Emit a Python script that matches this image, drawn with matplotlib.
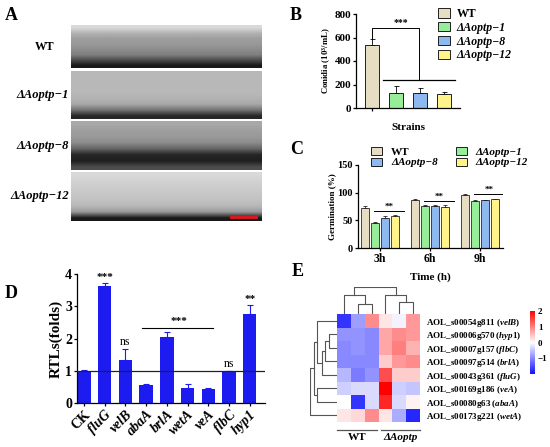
import numpy as np
import matplotlib
matplotlib.use("Agg")
from matplotlib import pyplot as plt
from matplotlib.patches import Patch
from matplotlib.colors import LinearSegmentedColormap

plt.rcParams['font.family'] = ['Liberation Serif', 'DejaVu Serif']
plt.rcParams['font.weight'] = 'bold'
plt.rcParams['axes.labelweight'] = 'bold'
plt.rcParams['mathtext.fontset'] = 'custom'
plt.rcParams['mathtext.rm'] = 'Liberation Serif:bold'
plt.rcParams['mathtext.it'] = 'Liberation Serif:italic:bold'
plt.rcParams['mathtext.bf'] = 'Liberation Serif:bold'

# ---- data ----
strains = ['WT', 'ΔAoptp−1', 'ΔAoptp−8', 'ΔAoptp−12']
strain_colors = ['#e6ddc3', '#98ee98', '#8db8f0', '#fff38a']

conidia_mean = [540, 130, 128, 115]
conidia_err = [50, 60, 45, 25]

times = ['3h', '6h', '9h']
germ_mean = [[72, 87, 96],   # WT
             [45, 76, 85],   # -1
             [54, 76, 86],   # -8
             [57, 75, 88]]   # -12
germ_err = [[4, 1, 1],
            [2, 1, 1],
            [3, 2, 1],
            [2, 2, 1]]

genes_d = ['CK', 'fluG', 'velB', 'abaA', 'brlA', 'wetA', 'veA', 'flbC', 'hyp1']
rtl_mean = [1.0, 3.62, 1.32, 0.56, 2.05, 0.48, 0.43, 0.98, 2.75]
rtl_err = [0.02, 0.1, 0.35, 0.02, 0.15, 0.1, 0.02, 0.01, 0.3]

gene_ids = ['AOL_s00054g811', 'AOL_s00006g570', 'AOL_s00007g157', 'AOL_s00097g514',
            'AOL_s00043g361', 'AOL_s00169g186', 'AOL_s00080g63', 'AOL_s00173g221']
gene_names = ['velB', 'hyp1', 'flbC', 'brlA', 'fluG', 'veA', 'abaA', 'wetA']
zscores = [[-1.7, -0.8, 0.9, 0.2, -0.1, 0.8],
           [-0.9, -0.9, -1.0, 0.7, 0.9, 0.8],
           [-1.0, -0.9, -1.0, 0.7, 1.0, 0.6],
           [-1.0, -1.0, -1.0, 0.4, 0.8, 0.9],
           [-0.6, -1.1, -0.9, 1.4, 0.4, 0.4],
           [-0.4, -0.3, -0.3, 2.0, -0.4, -0.5],
           [0.0, -1.7, -0.3, 1.7, -0.3, 0.1],
           [0.2, 0.3, 0.9, 0.2, -0.7, -1.8]]
# dendrogram merges: (child a, child b, height); new nodes numbered after leaves
col_tree = [(1, 2, 30), (0, 6, 55), (4, 5, 35), (3, 8, 55), (7, 9, 77)]
row_tree = [(1, 2, 25), (3, 8, 38), (4, 9, 45), (0, 10, 62), (5, 6, 60),
            (11, 12, 72), (13, 7, 82)]

# photo placeholders for panel A (grey shade top -> bottom)
photo_shades = [[0.85, 0.70, 0.62, 0.60, 0.55, 0.50, 0.30, 0.10],
                [0.72, 0.72, 0.72, 0.72, 0.70, 0.66, 0.45, 0.15],
                [0.66, 0.62, 0.60, 0.55, 0.40, 0.15, 0.12, 0.30],
                [0.85, 0.82, 0.80, 0.78, 0.76, 0.72, 0.60, 0.10]]

W, H = 550, 447
fig = plt.figure(figsize=(W / 100, H / 100), dpi=100)


def ax_px(x0, y0, x1, y1):
    return fig.add_axes([x0 / W, 1 - y1 / H, (x1 - x0) / W, (y1 - y0) / H])


def style_axes(ax, fs):
    for s in ['top', 'right']:
        ax.spines[s].set_visible(False)
    for s in ['left', 'bottom']:
        ax.spines[s].set_linewidth(0.9)
    ax.tick_params(labelsize=fs, width=0.9, length=2.5, pad=1)
    for lab in ax.get_yticklabels():
        lab.set_fontweight('bold')


def up_errbar(ax, x, y, e, color, lw=0.6, cap=1.8):
    ax.errorbar(x, y, yerr=[np.zeros(len(e)), e], fmt='none', ecolor=color,
                elinewidth=lw, capsize=cap, capthick=lw, zorder=1)


# ---- panel labels ----
for lab, x, y in [('A', 5, 16), ('B', 290, 15), ('C', 290, 150), ('D', 5, 294), ('E', 292, 272)]:
    fig.text(x / W, 1 - y / H, lab, fontsize=13, fontweight='bold', va='center')

# ---- panel A ----
rows_a = [(25, 68), (71, 119), (121, 170), (172, 221)]
for i, (y0, y1) in enumerate(rows_a):
    ax = ax_px(71, y0, 262, y1)
    img = np.array(photo_shades[i])[:, None] * np.ones((1, 4))
    ax.imshow(img, cmap='gray', vmin=0, vmax=1, aspect='auto', interpolation='bilinear',
              extent=[0, 1, 0, 1])
    ax.set_xticks([])
    ax.set_yticks([])
    for s in ax.spines.values():
        s.set_visible(False)
    yc = 1 - (y0 + y1) / 2 / H
    if i == 0:
        fig.text(45 / W, yc, strains[i], fontsize=8.5, fontweight='bold', ha='center', va='center')
    else:
        fig.text(69 / W, yc, strains[i], fontsize=9, fontweight='bold', style='italic',
                 ha='right', va='center')
    if i == 3:
        ax.plot([0.84, 0.97], [0.09, 0.09], color='#e8141c', lw=2)

# ---- panel B ----
axB = ax_px(356, 14, 460, 108)
xb = np.arange(len(strains))
axB.bar(xb, conidia_mean, width=0.62, color=strain_colors, edgecolor='black', linewidth=0.6, zorder=2)
up_errbar(axB, xb, conidia_mean, conidia_err, 'black')
axB.set_xlim(-0.67, 3.67)
axB.set_ylim(0, 800)
axB.set_yticks([0, 200, 400, 600, 800])
axB.set_xticks([0])
axB.set_xticklabels([''])
style_axes(axB, 8)
axB.set_ylabel('Conidia (10$^3$/mL)', fontsize=6.3, labelpad=1)
axB.plot([0, 0, 1.96, 1.96], [590, 680, 680, 237], color='black', lw=0.7, clip_on=False)
axB.plot([0.45, 3.45], [237, 237], color='black', lw=0.9, clip_on=False)
axB.text(1.2, 690, '***', fontsize=7, ha='center', va='bottom')
fig.text(408 / W, 1 - 127 / H, 'Strains', fontsize=8, fontweight='bold', ha='center', va='center')

handles = [Patch(facecolor=c, edgecolor='black', linewidth=0.6) for c in strain_colors]
legB = fig.legend(handles, strains, loc='upper left', bbox_to_anchor=(438 / W, 1 - 8 / H),
                  frameon=False, fontsize=8.5, handlelength=1.0, handleheight=0.85,
                  labelspacing=0.15, handletextpad=0.6, borderaxespad=0, borderpad=0)
for i, t in enumerate(legB.get_texts()):
    t.set_fontweight('bold')
    if i > 0:
        t.set_style('italic')

# ---- panel C ----
axC = ax_px(358, 165, 503, 248)
xt = np.arange(len(times))
offsets = [-0.3, -0.1, 0.1, 0.3]
for k in range(len(strains)):
    axC.bar(xt + offsets[k], germ_mean[k], width=0.16, color=strain_colors[k],
            edgecolor='black', linewidth=0.5, zorder=2)
    up_errbar(axC, xt + offsets[k], germ_mean[k], germ_err[k], 'black', lw=0.5, cap=1.2)
axC.set_xlim(-0.44, 2.46)
axC.set_ylim(0, 150)
axC.set_yticks([0, 50, 100, 150])
axC.set_xticks(xt)
axC.set_xticklabels(times, fontweight='bold')
style_axes(axC, 7.5)
axC.tick_params(axis='x', labelsize=8.5)
axC.set_ylabel('Germination (%)', fontsize=6.5, labelpad=1)
for i, yv in enumerate([66, 85, 97]):
    axC.plot([i - 0.12, i + 0.48], [yv, yv], color='black', lw=0.7)
    axC.text(i + 0.18, yv + 1, '**', fontsize=6.5, ha='center', va='bottom')
fig.text(430 / W, 1 - 277 / H, 'Time (h)', fontsize=8, fontweight='bold', ha='center', va='center')
order = [0, 2, 1, 3]
legC = fig.legend([handles[i] for i in order], [strains[i] for i in order], loc='upper left',
                  bbox_to_anchor=(371 / W, 1 - 147 / H), ncol=2, frameon=False, fontsize=8,
                  handlelength=1.0, handleheight=0.75, labelspacing=0.05, handletextpad=0.8,
                  columnspacing=1.6, borderaxespad=0, borderpad=0)
for t in legC.get_texts():
    t.set_fontweight('bold')
    if t.get_text() != 'WT':
        t.set_style('italic')

# ---- panel D ----
axD = ax_px(77, 274, 265, 403)
xd = np.arange(len(genes_d))
blue = '#1c1cf0'
axD.bar(xd, rtl_mean, width=0.65, color=blue, zorder=2)
up_errbar(axD, xd, rtl_mean, rtl_err, blue, lw=0.8, cap=2.2)
axD.axhline(1, color='#222222', lw=0.9, zorder=3)
axD.set_xlim(-0.34, 8.74)
axD.set_ylim(0, 4)
axD.set_yticks([0, 1, 2, 3, 4])
axD.set_xticks(xd)
axD.set_xticklabels(genes_d, rotation=45, ha='right', rotation_mode='anchor')
style_axes(axD, 10)
for i, lab in enumerate(axD.get_xticklabels()):
    lab.set_fontweight('bold')
    if i > 0:
        lab.set_style('italic')
axD.set_ylabel('RTLs(folds)', fontsize=11, labelpad=2)
axD.text(1, 3.74, '***', fontsize=8, ha='center', va='bottom')
axD.text(2, 1.7, 'ns', fontsize=8.5, fontweight='normal', ha='center', va='bottom')
axD.text(7, 1.03, 'ns', fontsize=8.5, fontweight='normal', ha='center', va='bottom')
axD.text(8, 3.08, '**', fontsize=8, ha='center', va='bottom')
axD.plot([2.78, 6.24], [2.33, 2.33], color='black', lw=0.8)
axD.text(4.6, 2.4, '***', fontsize=8, ha='center', va='bottom')

# ---- panel E ----
cmap = LinearSegmentedColormap.from_list('bwr_e', ['#1010ff', '#ffffff', '#ff0000'])
axE = ax_px(337, 314, 420, 422)
Z = np.array(zscores)
im = axE.pcolormesh(np.arange(7), np.arange(9), Z, cmap=cmap, vmin=-2, vmax=2)
axE.set_xlim(0, 6)
axE.set_ylim(8, 0)
axE.set_xticks([])
axE.yaxis.tick_right()
axE.set_yticks(np.arange(8) + 0.5)
axE.set_yticklabels([f'{gid} ($\\mathit{{{g}}}$)' for gid, g in zip(gene_ids, gene_names)],
                    fontsize=6.5)
axE.tick_params(axis='y', length=0, pad=4)
for s in axE.spines.values():
    s.set_visible(False)
axE.plot([0.0, 2.92], [8.6, 8.6], color='#555555', lw=0.9, clip_on=False)
axE.plot([3.2, 6.0], [8.6, 8.6], color='#555555', lw=0.9, clip_on=False)
axE.text(1.46, 8.85, 'WT', fontsize=8, fontweight='bold', ha='center', va='top')
axE.text(4.6, 8.85, 'ΔAoptp', fontsize=8, fontweight='bold', style='italic', ha='center', va='top')

cax = ax_px(530, 311, 535, 374)
cb = fig.colorbar(im, cax=cax, ticks=[-1, 0, 1, 2])
cb.outline.set_visible(False)
cax.tick_params(labelsize=6.5, length=0, pad=2)
for lab in cax.get_yticklabels():
    lab.set_fontweight('bold')


def draw_dendro(ax, merges, n, horizontal=False):
    pos = {i: i + 0.5 for i in range(n)}
    hgt = {i: 0 for i in range(n)}
    for k, (a, b, h) in enumerate(merges):
        xs = [pos[a], pos[a], pos[b], pos[b]]
        ys = [hgt[a], h, h, hgt[b]]
        if horizontal:
            ax.plot(ys, xs, color='#555555', lw=0.8)
        else:
            ax.plot(xs, ys, color='#555555', lw=0.8)
        pos[n + k] = (pos[a] + pos[b]) / 2
        hgt[n + k] = h
    ax.axis('off')


axCol = ax_px(337, 287, 420, 314)
draw_dendro(axCol, col_tree, 6)
axCol.set_xlim(0, 6)
axCol.set_ylim(0, 78)

axRow = ax_px(310, 314, 337, 422)
draw_dendro(axRow, row_tree, 8, horizontal=True)
axRow.set_ylim(8, 0)
axRow.set_xlim(83, 0)

fig.savefig('out.png', dpi=100)
